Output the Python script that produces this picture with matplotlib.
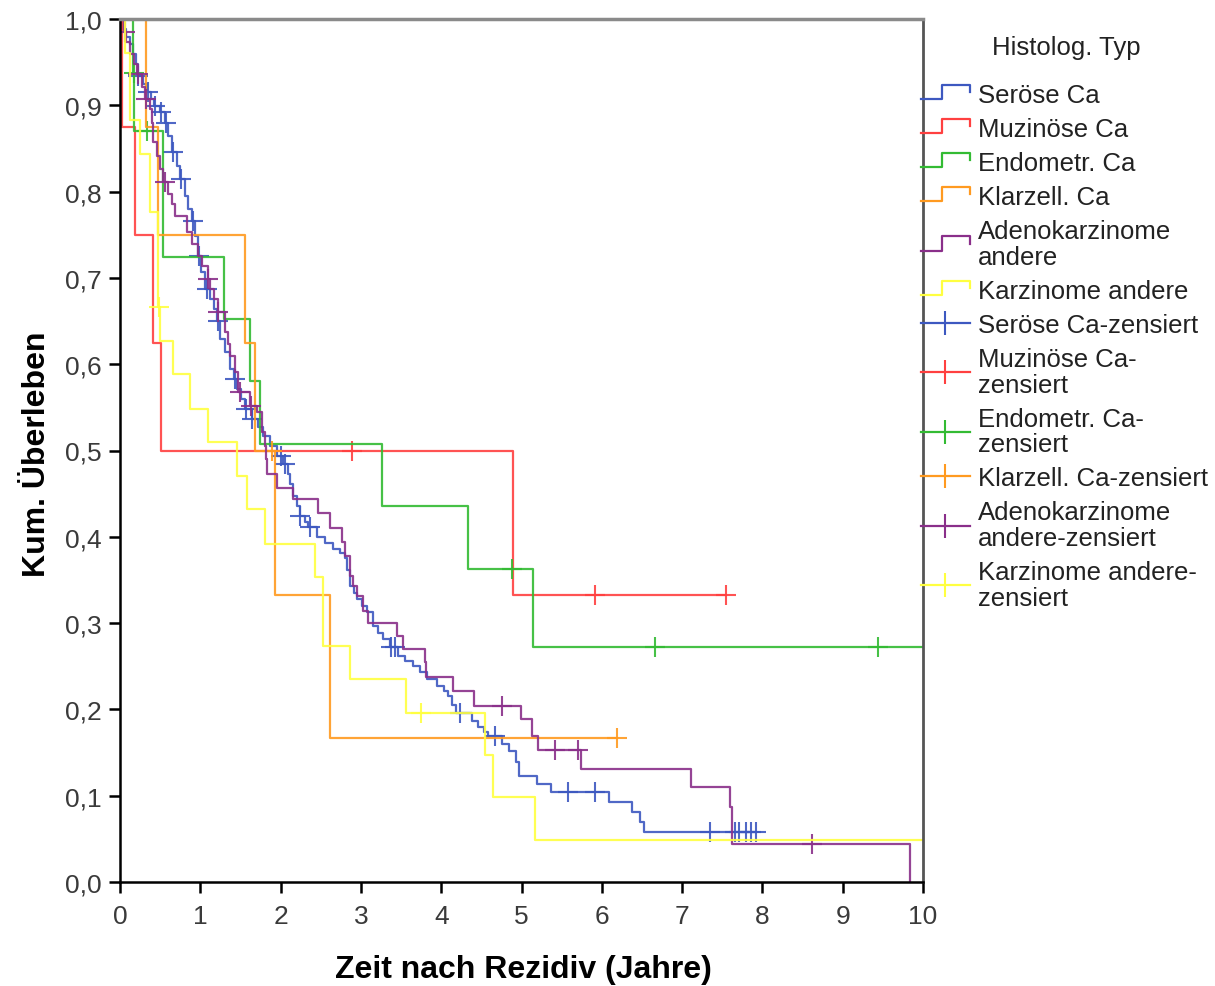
import numpy as np
import matplotlib
matplotlib.use('agg')
import matplotlib.pyplot as plt
from matplotlib.lines import Line2D
from matplotlib.legend_handler import HandlerBase

plt.rcParams['font.family'] = ['Liberation Sans', 'DejaVu Sans']

# step curves: drop times (years) and survival after each drop
groups = ["Seröse Ca", "Muzinöse Ca", "Endometr. Ca", "Klarzell. Ca",
          "Adenokarzinome\nandere", "Karzinome andere"]
censor_labels = ["Seröse Ca-zensiert", "Muzinöse Ca-\nzensiert", "Endometr. Ca-\nzensiert",
                 "Klarzell. Ca-zensiert", "Adenokarzinome\nandere-zensiert",
                 "Karzinome andere-\nzensiert"]
colors = ["#3d58c0", "#ff4040", "#33bb33", "#ff9a20", "#8a2f8a", "#ffff40"]

serous_t = [0.04, 0.07, 0.12, 0.16, 0.20, 0.22, 0.29, 0.34, 0.39, 0.42, 0.50, 0.56, 0.60,
            0.65, 0.71, 0.75, 0.81, 0.85, 0.90, 0.93, 0.97, 1.01, 1.06, 1.12, 1.17, 1.21,
            1.25, 1.31, 1.37, 1.42, 1.46, 1.51, 1.56, 1.64, 1.72, 1.78, 1.87, 1.96, 2.03,
            2.09, 2.12, 2.15, 2.20, 2.24, 2.30, 2.34, 2.45, 2.55, 2.65, 2.74, 2.80, 2.83,
            2.86, 2.91, 2.95, 3.01, 3.08, 3.15, 3.21, 3.28, 3.36, 3.46, 3.55, 3.65, 3.74,
            3.82, 3.95, 4.03, 4.08, 4.13, 4.18, 4.38, 4.46, 4.53, 4.58, 4.76, 4.85, 4.93,
            4.97, 5.19, 5.37, 6.09, 6.38, 6.48, 6.53]
serous_s = [0.988, 0.979, 0.971, 0.959, 0.948, 0.934, 0.925, 0.915, 0.907, 0.899, 0.892,
            0.880, 0.864, 0.846, 0.830, 0.815, 0.795, 0.780, 0.766, 0.749, 0.725, 0.707,
            0.687, 0.676, 0.664, 0.650, 0.629, 0.614, 0.594, 0.583, 0.571, 0.560, 0.548,
            0.537, 0.527, 0.517, 0.505, 0.494, 0.484, 0.473, 0.461, 0.447, 0.436, 0.424,
            0.417, 0.411, 0.400, 0.393, 0.386, 0.381, 0.376, 0.362, 0.343, 0.335, 0.328,
            0.320, 0.313, 0.297, 0.289, 0.282, 0.272, 0.262, 0.256, 0.250, 0.243, 0.235,
            0.227, 0.221, 0.216, 0.205, 0.196, 0.187, 0.180, 0.174, 0.169, 0.160, 0.152,
            0.139, 0.123, 0.113, 0.104, 0.093, 0.081, 0.070, 0.058]
serous_c = [0.23, 0.35, 0.43, 0.51, 0.57, 0.66, 0.76, 0.91, 0.99, 1.08, 1.22, 1.43, 1.57,
            1.65, 2.01, 2.05, 2.24, 2.36, 3.37, 3.42, 4.23, 4.67, 5.58, 5.92, 7.35, 7.66,
            7.71, 7.79, 7.86, 7.92]

mucin_t = [0.02, 0.19, 0.41, 0.51, 4.89]
mucin_s = [0.875, 0.750, 0.625, 0.500, 0.333]
mucin_c = [2.89, 5.92, 7.55]

endo_t = [0.16, 0.18, 0.53, 1.30, 1.62, 1.74, 3.26, 4.33, 5.14]
endo_s = [0.938, 0.870, 0.724, 0.652, 0.580, 0.508, 0.436, 0.363, 0.272]
endo_c = [0.17, 0.34, 4.88, 6.66, 9.44, 10.2]

clear_t = [0.32, 0.47, 1.56, 1.68, 1.93, 2.62]
clear_s = [0.875, 0.750, 0.625, 0.500, 0.333, 0.167]
clear_c = [1.89, 6.19]

adeno_t = [0.05, 0.08, 0.12, 0.17, 0.21, 0.27, 0.31, 0.37, 0.40, 0.41, 0.46, 0.50, 0.54,
           0.60, 0.65, 0.68, 0.83, 0.90, 0.97, 1.02, 1.10, 1.12, 1.17, 1.22, 1.31, 1.34,
           1.37, 1.43, 1.47, 1.62, 1.71, 1.77, 1.81, 1.82, 1.83, 1.96, 2.15, 2.47, 2.62,
           2.76, 2.80, 2.86, 2.90, 2.95, 3.03, 3.09, 3.45, 3.52, 3.80, 3.81, 4.15, 4.41,
           4.99, 5.13, 5.21, 5.74, 7.11, 7.60, 7.62, 9.84]
adeno_s = [0.985, 0.973, 0.959, 0.948, 0.936, 0.921, 0.907, 0.896, 0.880, 0.857, 0.841,
           0.826, 0.811, 0.797, 0.786, 0.772, 0.753, 0.739, 0.725, 0.714, 0.699, 0.687,
           0.676, 0.660, 0.637, 0.623, 0.610, 0.591, 0.568, 0.552, 0.545, 0.521, 0.505,
           0.490, 0.473, 0.457, 0.444, 0.428, 0.410, 0.394, 0.378, 0.355, 0.343, 0.331,
           0.314, 0.300, 0.285, 0.270, 0.255, 0.238, 0.221, 0.204, 0.189, 0.169, 0.153,
           0.131, 0.110, 0.087, 0.044, 0.0]
adeno_c = [0.06, 0.22, 0.33, 0.56, 1.10, 1.22, 1.49, 1.63, 4.76, 5.42, 5.70, 8.62]

other_t = [0.06, 0.12, 0.13, 0.25, 0.37, 0.47, 0.50, 0.66, 0.87, 1.10, 1.46, 1.58, 1.81,
           2.43, 2.53, 2.86, 3.56, 4.55, 4.64, 5.17]
other_s = [0.961, 0.922, 0.883, 0.844, 0.776, 0.666, 0.627, 0.589, 0.548, 0.510, 0.471,
           0.432, 0.392, 0.353, 0.274, 0.235, 0.196, 0.147, 0.098, 0.049]
other_c = [0.49, 3.75, 10.2]

times = [serous_t, mucin_t, endo_t, clear_t, adeno_t, other_t]
levels = [serous_s, mucin_s, endo_s, clear_s, adeno_s, other_s]
censored = [serous_c, mucin_c, endo_c, clear_c, adeno_c, other_c]


class HandlerStep(HandlerBase):
    # small step glyph like the SPSS legend
    def create_artists(self, legend, orig_handle, xdescent, ydescent, width, height,
                       fontsize, trans):
        xs = np.array([0.0, 0.42, 0.42, 1.0, 1.0]) * width - xdescent
        ys = np.array([0.15, 0.15, 0.95, 0.95, 0.55]) * height - ydescent
        line = Line2D(xs, ys, color=orig_handle.get_color(), lw=1.6, transform=trans)
        return [line]


fig = plt.figure(figsize=(12.15, 9.87), dpi=100)
ax = fig.add_axes([120 / 1215, 104 / 987, 803 / 1215, 863 / 987])

for tt, ss, cc, col in zip(times, levels, censored, colors):
    tt = np.asarray(tt)
    ss = np.asarray(ss)
    end = max(tt[-1], max(cc))
    xs = np.concatenate([[0.0], tt, [end]])
    ys = np.concatenate([[1.0], ss, [ss[-1]]])
    ax.step(xs, ys, where='post', color=col, lw=1.6, alpha=0.9)
    idx = np.searchsorted(tt, cc, side='right') - 1
    cy = np.where(idx >= 0, ss[np.clip(idx, 0, None)], 1.0)
    ax.plot(cc, cy, ls='none', marker='+', ms=14, mew=1.5, color=col, alpha=0.9)

ax.set_xlim(0, 10)
ax.set_ylim(0, 1)
ax.set_xticks(np.arange(0, 11, 1))
ax.set_yticks(np.arange(0, 1.01, 0.1))
ax.set_yticklabels([f"{v:.1f}".replace(".", ",") for v in np.arange(0, 1.01, 0.1)])
ax.tick_params(direction='out', length=8, width=1.8, color='black',
               labelsize=19, labelcolor='#3a3a3a')
ax.tick_params(axis='y', pad=5)
ax.tick_params(axis='x', pad=8)

for side in ['left', 'bottom']:
    ax.spines[side].set_color('black')
    ax.spines[side].set_linewidth(1.8)
ax.spines['top'].set_color('#8a8a8a')
ax.spines['top'].set_linewidth(2.5)
ax.spines['right'].set_color('#555555')
ax.spines['right'].set_linewidth(2.0)

ax.set_xlabel("Zeit nach Rezidiv (Jahre)", fontsize=23, fontweight='bold')
ax.set_ylabel("Kum. Überleben", fontsize=23, fontweight='bold')
ax.xaxis.set_label_coords(0.502, -0.083)
ax.yaxis.set_label_coords(-0.085, 0.497)

fig.text(1066 / 1215, 1 - 48 / 987, "Histolog. Typ", fontsize=18.5,
         ha='center', va='center', color='#222222')

step_handles = [Line2D([], [], color=c) for c in colors]
cens_handles = [Line2D([], [], color=c, lw=1.6, marker='|', ms=17, mew=1.5) for c in colors]
leg = fig.legend(step_handles + cens_handles, groups + censor_labels,
                 loc='upper left', bbox_to_anchor=(921 / 1215, 1 - 84 / 987),
                 frameon=False, fontsize=18.5, numpoints=1,
                 handlelength=1.9, handletextpad=0.3, labelspacing=0.39,
                 borderpad=0, borderaxespad=0,
                 handler_map={h: HandlerStep() for h in step_handles})
for t in leg.get_texts():
    t.set_linespacing(1.09)
    t.set_color('#222222')

fig.savefig("out.png", dpi=100)
